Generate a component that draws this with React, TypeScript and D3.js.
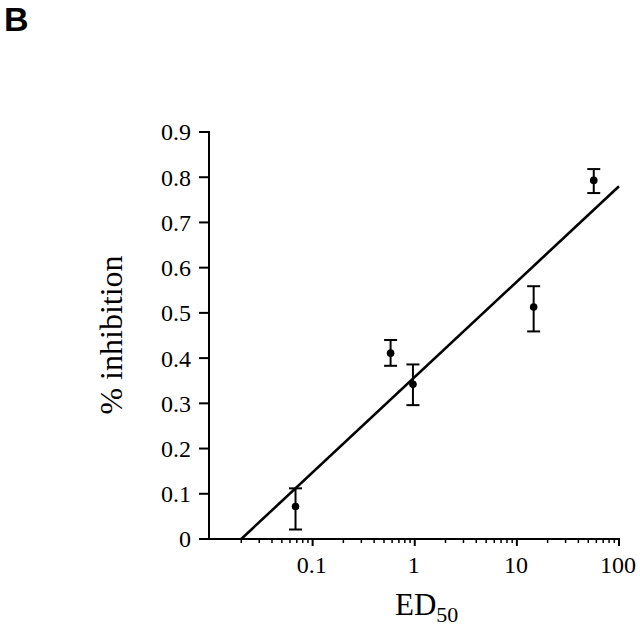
import React from "react";
import * as d3 from "d3";

const edValues = [0.068, 0.58, 0.96, 14.6, 56.6];
const inhibition = [0.072, 0.411, 0.342, 0.513, 0.793];
const errUpper = [0.112, 0.44, 0.386, 0.559, 0.818];
const errLower = [0.021, 0.383, 0.296, 0.459, 0.765];
const fitX = [0.02, 100];
const fitY = [0, 0.78];
const yTicks = [0, 0.1, 0.2, 0.3, 0.4, 0.5, 0.6, 0.7, 0.8, 0.9];
const xMajorTicks = [0.1, 1, 10, 100];
const xTickLabels = ["0.1", "1", "10", "100"];

export default function App() {
  const x = d3.scaleLog().domain([0.01, 100]).range([210.5, 619]);
  const y = d3.scaleLinear().domain([0, 0.9]).range([539, 132]);
  const minor: number[] = [];
  [0.01, 0.1, 1, 10].forEach((d) => {
    for (let k = 2; k <= 9; k++) minor.push(d * k);
  });
  const line = d3
    .line<number>()
    .x((_, i) => x(fitX[i]))
    .y((d) => y(d));
  const serif = "Liberation Serif, Times New Roman, Times, DejaVu Serif, serif";
  const axisX0 = 209;
  return (
    <svg
      width={640}
      height={627}
      style={{ position: "absolute", left: 0, top: 0, background: "#fff" }}
    >
      <rect x={0} y={0} width={640} height={627} fill="#fff" />
      <text x={4} y={31} style={{ fontFamily: "Liberation Sans, Arial, sans-serif", fontWeight: "bold", fontSize: 34 }} fill="#000">
        B
      </text>
      {/* y axis */}
      <line x1={axisX0} x2={axisX0} y1={y(0.9) - 1} y2={y(0) + 1} stroke="#000" strokeWidth={2} />
      {yTicks.map((t) => (
        <g key={"yt" + t}>
          <line x1={axisX0 - 10} x2={axisX0} y1={y(t)} y2={y(t)} stroke="#000" strokeWidth={2} />
          <text
            x={191}
            y={y(t)}
            dy="0.35em"
            textAnchor="end"
            style={{ fontFamily: serif, fontSize: 24 }}
            fill="#000"
          >
            {d3.format("~g")(+t.toFixed(1))}
          </text>
        </g>
      ))}
      {/* x axis */}
      <line x1={axisX0 - 1} x2={x(100) + 1} y1={y(0)} y2={y(0)} stroke="#000" strokeWidth={2} />
      {minor.map((t) => (
        <line key={"mx" + t} x1={x(t)} x2={x(t)} y1={y(0)} y2={y(0) + 4} stroke="#000" strokeWidth={1.5} />
      ))}
      {xMajorTicks.map((t, i) => (
        <g key={"xt" + t}>
          <line x1={x(t)} x2={x(t)} y1={y(0)} y2={y(0) + 7} stroke="#000" strokeWidth={2} />
          <text x={x(t) - 1} y={573} textAnchor="middle" style={{ fontFamily: serif, fontSize: 24 }} fill="#000">
            {xTickLabels[i]}
          </text>
        </g>
      ))}
      {/* fit line */}
      <path d={line(fitY) || ""} fill="none" stroke="#000" strokeWidth={2.6} />
      {/* points with error bars */}
      {edValues.map((e, i) => {
        const cx = x(e);
        return (
          <g key={"p" + i}>
            <line x1={cx} x2={cx} y1={y(errUpper[i])} y2={y(errLower[i])} stroke="#000" strokeWidth={2} />
            <line x1={cx - 6.5} x2={cx + 6.5} y1={y(errUpper[i])} y2={y(errUpper[i])} stroke="#000" strokeWidth={2} />
            <line x1={cx - 6.5} x2={cx + 6.5} y1={y(errLower[i])} y2={y(errLower[i])} stroke="#000" strokeWidth={2} />
            <circle cx={cx} cy={y(inhibition[i])} r={3.8} fill="#000" />
          </g>
        );
      })}
      {/* axis titles */}
      <text x={395} y={615} style={{ fontFamily: serif, fontSize: 31 }} fill="#000">
        ED
        <tspan style={{ fontSize: 22 }} dy={7}>
          50
        </tspan>
      </text>
      <text
        transform="translate(122,335) rotate(-90)"
        textAnchor="middle"
        style={{ fontFamily: serif, fontSize: 32 }}
        fill="#000"
      >
        % inhibition
      </text>
    </svg>
  );
}
